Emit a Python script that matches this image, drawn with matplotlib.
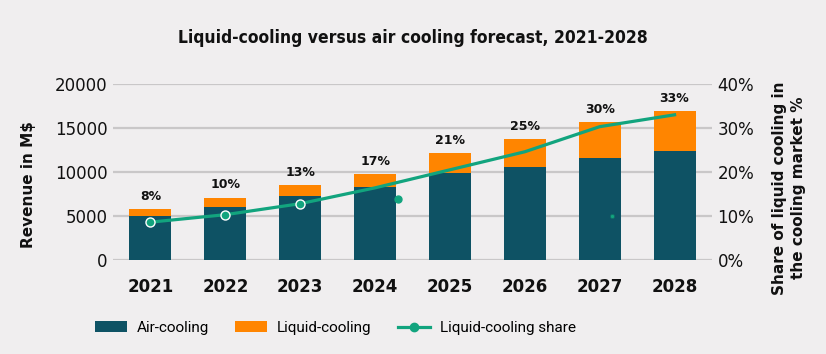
import matplotlib.pyplot as plt
import numpy as np
from matplotlib.patches import Patch
from matplotlib.lines import Line2D

# data
years = ["2021", "2022", "2023", "2024", "2025", "2026", "2027", "2028"]
air = [5000, 6050, 7250, 8300, 9900, 10550, 11600, 12400]
liquid = [800, 1030, 1270, 1470, 2260, 3200, 4080, 4530]
share = [8.6, 10.3, 12.8, 16.4, 20.5, 24.6, 30.3, 33.0]
share_labels = ["8%", "10%", "13%", "17%", "21%", "25%", "30%", "33%"]
# stray markers visible in the source picture
stray_x = [3.31, 6.17]
stray_y = [13.9, 10.0]

bg = "#f0eeef"
teal = "#0e5264"
orange = "#ff8500"
green = "#12a47e"
grid_c = "#c9c7c8"

fig = plt.figure(figsize=(8.26, 3.54), dpi=100, facecolor=bg)
ax = fig.add_axes([113/826, 1-260/354, 599/826, 176/354])
ax.set_facecolor(bg)

x = np.arange(len(years))
ax.bar(x, air, width=0.56, color=teal, zorder=2)
ax.bar(x, liquid, width=0.56, bottom=air, color=orange, zorder=2)

totals = np.array(air) + np.array(liquid)
for i, lab in enumerate(share_labels):
    ax.annotate(lab, (x[i], totals[i]), xytext=(0, 4.5), textcoords="offset points",
                ha="center", va="bottom", fontsize=9, fontweight="bold",
                color="#111111", annotation_clip=False)

ax.set_xlim(-0.5, 7.5)
ax.set_ylim(0, 20000)
ax.set_yticks(np.linspace(0, 20000, 5))
ax.grid(axis="y", color=grid_c, linewidth=1.6, zorder=0)
ax.set_axisbelow(True)
for s in ax.spines.values():
    s.set_visible(False)
ax.tick_params(axis="both", length=0)
ax.tick_params(axis="y", pad=4, labelsize=12, labelcolor="#111111")
ax.set_xticks(x)
ax.set_xticklabels(years, fontsize=12, fontweight="bold", color="#111111")
ax.tick_params(axis="x", pad=13)
ax.set_ylabel("Revenue in M$", fontsize=11, fontweight="bold", color="#111111")
ax.yaxis.set_label_coords(-0.129, 0.43)

ax2 = ax.twinx()
ax2.set_ylim(0, 40)
ax2.set_yticks(np.linspace(0, 40, 5))
ax2.set_yticklabels([f"{int(v)}%" for v in np.linspace(0, 40, 5)])
for s in ax2.spines.values():
    s.set_visible(False)
ax2.tick_params(axis="y", length=0, pad=4, labelsize=12, labelcolor="#111111")
ax2.set_ylabel("Share of liquid cooling in\nthe cooling market %", fontsize=11,
               fontweight="bold", color="#111111", linespacing=1.35)
ax2.yaxis.set_label_coords(1.10, 0.41)

ax2.plot(x, share, color=green, linewidth=2.3, zorder=3)
ax2.plot(x[:3], share[:3], linestyle="none", marker="o", markersize=6.5,
         markerfacecolor=green, markeredgecolor="white", markeredgewidth=1.0, zorder=4)
ax2.plot(stray_x[:1], stray_y[:1], linestyle="none", marker="o", markersize=5,
         color=green, zorder=4)
ax2.plot(stray_x[1:], stray_y[1:], linestyle="none", marker="o", markersize=3,
         markerfacecolor=green, markeredgecolor="#0e6d66", markeredgewidth=0.6, zorder=4)

fig.text(0.5, 0.893, "Liquid-cooling versus air cooling forecast, 2021-2028",
         ha="center", va="center", fontsize=12.5, fontweight="bold",
         family="DejaVu Sans", fontstretch="condensed", color="#111111")

handles = [Patch(facecolor=teal, label="Air-cooling"),
           Patch(facecolor=orange, label="Liquid-cooling"),
           Line2D([0], [0], color=green, linewidth=2.3, marker="o", markersize=6,
                  label="Liquid-cooling share")]
fig.legend(handles=handles, loc="center left", bbox_to_anchor=(95/826, 1-328/354),
           ncol=3, frameon=False, prop={"family": "Roboto", "size": 11},
           handlelength=2.1, handletextpad=0.65, columnspacing=1.7,
           borderpad=0, borderaxespad=0)

fig.savefig("out.png", dpi=100, facecolor=bg)
